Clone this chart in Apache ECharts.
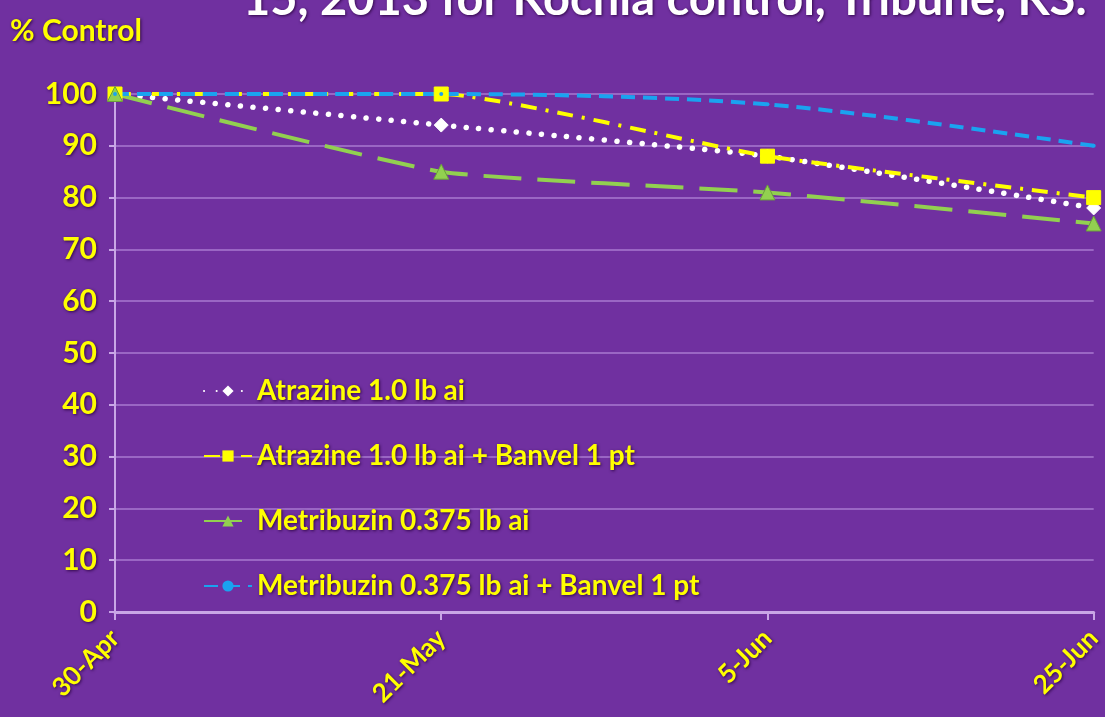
<!DOCTYPE html>
<html>
<head>
<meta charset="utf-8">
<script src="https://cdn.jsdelivr.net/npm/echarts@6/dist/echarts.min.js"></script>
<style>
html,body{margin:0;padding:0;background:#7030A0;}
#chart{width:1105px;height:717px;}
</style>
</head>
<body>
<div id="chart"></div>
<script>
const categories = ['30-Apr', '21-May', '5-Jun', '25-Jun'];
const atrazine = [100, 94, 88, 78];
const atrazineBanvel = [100, 100, 88, 80];
const metribuzin = [100, 85, 81, 75];
const metribuzinBanvel = [100, 100, 98, 90];
const seriesNames = [
  'Atrazine 1.0 lb ai',
  'Atrazine 1.0 lb ai + Banvel 1 pt',
  'Metribuzin 0.375 lb ai',
  'Metribuzin 0.375 lb ai + Banvel 1 pt'
];
const titleText = '15, 2013 for Kochia control, Tribune, KS.';
const yAxisName = '% Control';

const YEL = '#FFFF00';
const FONT = 'Lato';
const shadow = {textShadowColor: 'rgba(40,0,60,0.85)', textShadowBlur: 3, textShadowOffsetX: 1, textShadowOffsetY: 1};

const chart = echarts.init(document.getElementById('chart'));
chart.setOption({
  backgroundColor: '#7030A0',
  animation: false,
  title: {
    text: titleText,
    left: 238,
    top: -29,
    textStyle: Object.assign({color: '#ffffff', fontSize: 47, fontWeight: 'bold', fontFamily: FONT}, shadow)
  },
  graphic: [{
    type: 'text',
    left: 10,
    top: 16,
    style: {text: yAxisName, fill: YEL, font: 'bold 30px ' + FONT, textShadowColor: 'rgba(40,0,60,0.85)', textShadowBlur: 3, textShadowOffsetX: 1, textShadowOffsetY: 1}
  }],
  legend: {
    orient: 'vertical',
    left: 198,
    top: 372,
    itemGap: 37,
    itemWidth: 48,
    itemHeight: 14,
    data: seriesNames,
    textStyle: Object.assign({color: YEL, fontSize: 28, fontWeight: 'bold', fontFamily: FONT}, shadow)
  },
  grid: {left: 115, right: 5, top: 94, bottom: 105, containLabel: false},
  xAxis: {
    type: 'category',
    data: categories,
    boundaryGap: false,
    axisLine: {lineStyle: {color: '#c9a6e6', width: 3}},
    axisTick: {show: true, length: 8, lineStyle: {color: '#c9a6e6', width: 2}},
    axisLabel: Object.assign({color: YEL, fontSize: 26, fontWeight: 'bold', fontFamily: FONT, rotate: 45, margin: 22}, shadow),
    splitLine: {show: false}
  },
  yAxis: {
    type: 'value',
    min: 0, max: 100, interval: 10,
    axisLine: {show: true, lineStyle: {color: '#c9a6e6', width: 2}},
    axisTick: {show: true, length: 6, lineStyle: {color: '#c9a6e6', width: 2}},
    axisLabel: Object.assign({color: YEL, fontSize: 30, fontWeight: 'bold', fontFamily: FONT, margin: 18}, shadow),
    splitLine: {lineStyle: {color: '#9a66c4', width: 2}}
  },
  series: [
    {
      name: seriesNames[0], type: 'line', data: atrazine, smooth: 0.15,
      symbol: 'diamond', symbolSize: 14,
      lineStyle: {color: '#ffffff', width: 5.5, type: [0.1, 12.5], cap: 'round'},
      itemStyle: {color: '#ffffff', borderColor: '#ffffff'}
    },
    {
      name: seriesNames[1], type: 'line', data: atrazineBanvel, smooth: 0.15,
      symbol: 'rect', symbolSize: 14,
      lineStyle: {color: '#ffff00', width: 4, type: [16, 9, 3, 9]},
      itemStyle: {color: '#ffff00', borderColor: '#ffff00'}
    },
    {
      name: seriesNames[2], type: 'line', data: metribuzin, smooth: 0.15,
      symbol: 'triangle', symbolSize: 15,
      lineStyle: {color: '#92D050', width: 4, type: [38, 16]},
      itemStyle: {color: '#92D050', borderColor: '#6aa03a'}
    },
    {
      name: seriesNames[3], type: 'line', data: metribuzinBanvel, smooth: 0.3,
      symbol: 'circle', symbolSize: 4, showSymbol: true,
      lineStyle: {color: '#1aa3f0', width: 4, type: [14, 8]},
      itemStyle: {color: '#1aa3f0'}
    }
  ]
});
</script>
</body>
</html>
